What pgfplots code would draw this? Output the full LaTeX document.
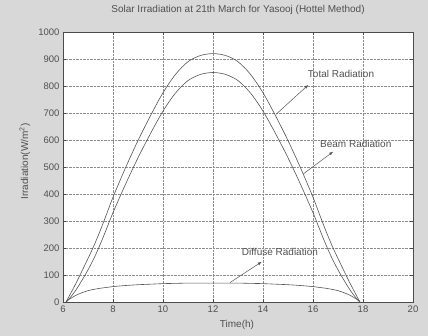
\documentclass[border=0pt]{standalone}
\usepackage{fontspec}
\setmainfont{Liberation Sans}
\usepackage{pgfplots}
\usepackage{pgfplotstable}
\pgfplotsset{compat=1.18}
\usetikzlibrary{arrows.meta}
\definecolor{bg}{HTML}{D8D8D8}
\definecolor{ln}{HTML}{555555}
\definecolor{txt}{HTML}{505050}

\pgfplotstableread{
t     total beam diffuse
6.12  0     0    0
6.25  22    12   10
6.5   66    42   24
6.75  113   79   34
7     161   119  42
7.25  211   164  47
7.5   267   216  51
7.75  327   273  54
8     388   331  57
8.5   497   436  61
9     598   534  64
9.5   690   624  66
10    775   707  68
10.5  843   774  69
11    890   820  70
11.5  913   843  70
12    920   850  70
12.5  913   843  70
13    890   820  70
13.5  843   774  69
14    775   707  68
14.5  690   624  66
15    598   534  64
15.5  497   436  61
16    388   331  57
16.25 327   273  54
16.5  267   216  51
16.75 211   164  47
17    161   119  42
17.25 113   79   34
17.5  66    42   24
17.75 22    12   10
17.88 0     0    0
}\solar

\begin{document}
\begin{tikzpicture}
\fill[bg] (-63pt,-34pt) rectangle (365pt,302pt);
\begin{axis}[
  at={(0pt,0pt)}, anchor=south west,
  scale only axis, width=350pt, height=270pt,
  xmin=6, xmax=20, ymin=0, ymax=1000,
  xtick={6,8,...,20}, ytick={0,100,...,1000},
  tick align=inside, major tick length=3pt,
  grid=major, major grid style={densely dotted, black!45, line width=0.5pt},
  axis background/.style={fill=white},
  axis line style={black!70, line width=0.6pt},
  tick style={black!70},
  ticklabel style={font=\fontsize{9.5}{11}\selectfont, text=txt},
  /pgf/number format/assume math mode=true,
  /pgf/number format/1000 sep={},
  title={Solar Irradiation at 21th March for Yasooj (Hottel Method)},
  title style={font=\fontsize{10}{12}\selectfont, text=txt, at={(axis description cs:0.5,1.059)}, anchor=center},
  xlabel={Time(h)},
  xlabel style={font=\fontsize{10}{12}\selectfont, text=txt, at={(axis description cs:0.497,-0.085)}, anchor=center},
  ylabel={Irradiation(W/m\textsuperscript{2})},
  ylabel style={font=\fontsize{10}{12}\selectfont, text=txt, at={(axis description cs:-0.109,0.52)}, anchor=center},
]
\addplot[ln, line width=0.6pt, no markers, smooth] table[x=t, y=total] {\solar};
\addplot[ln, line width=0.6pt, no markers, smooth] table[x=t, y=beam] {\solar};
\addplot[ln, line width=0.6pt, no markers, smooth] table[x=t, y=diffuse] {\solar};

\draw[ln, line width=0.5pt, -{Latex[length=4pt,width=3pt]}] (axis cs:14.52,695) -- (axis cs:15.81,804);
\node[anchor=west, inner sep=0pt, text=txt, font=\fontsize{10}{12}\selectfont] at (axis cs:15.79,844) {Total Radiation};

\draw[ln, line width=0.5pt, -{Latex[length=4pt,width=3pt]}] (axis cs:15.62,475) -- (axis cs:16.81,557);
\node[anchor=west, inner sep=0pt, text=txt, font=\fontsize{10}{12}\selectfont] at (axis cs:16.28,584) {Beam Radiation};

\draw[ln, line width=0.5pt, -{Latex[length=4pt,width=3pt]}] (axis cs:12.68,72) -- (axis cs:13.95,149);
\node[anchor=west, inner sep=0pt, text=txt, font=\fontsize{10}{12}\selectfont] at (axis cs:13.15,184) {Diffuse Radiation};
\end{axis}
\end{tikzpicture}
\end{document}
